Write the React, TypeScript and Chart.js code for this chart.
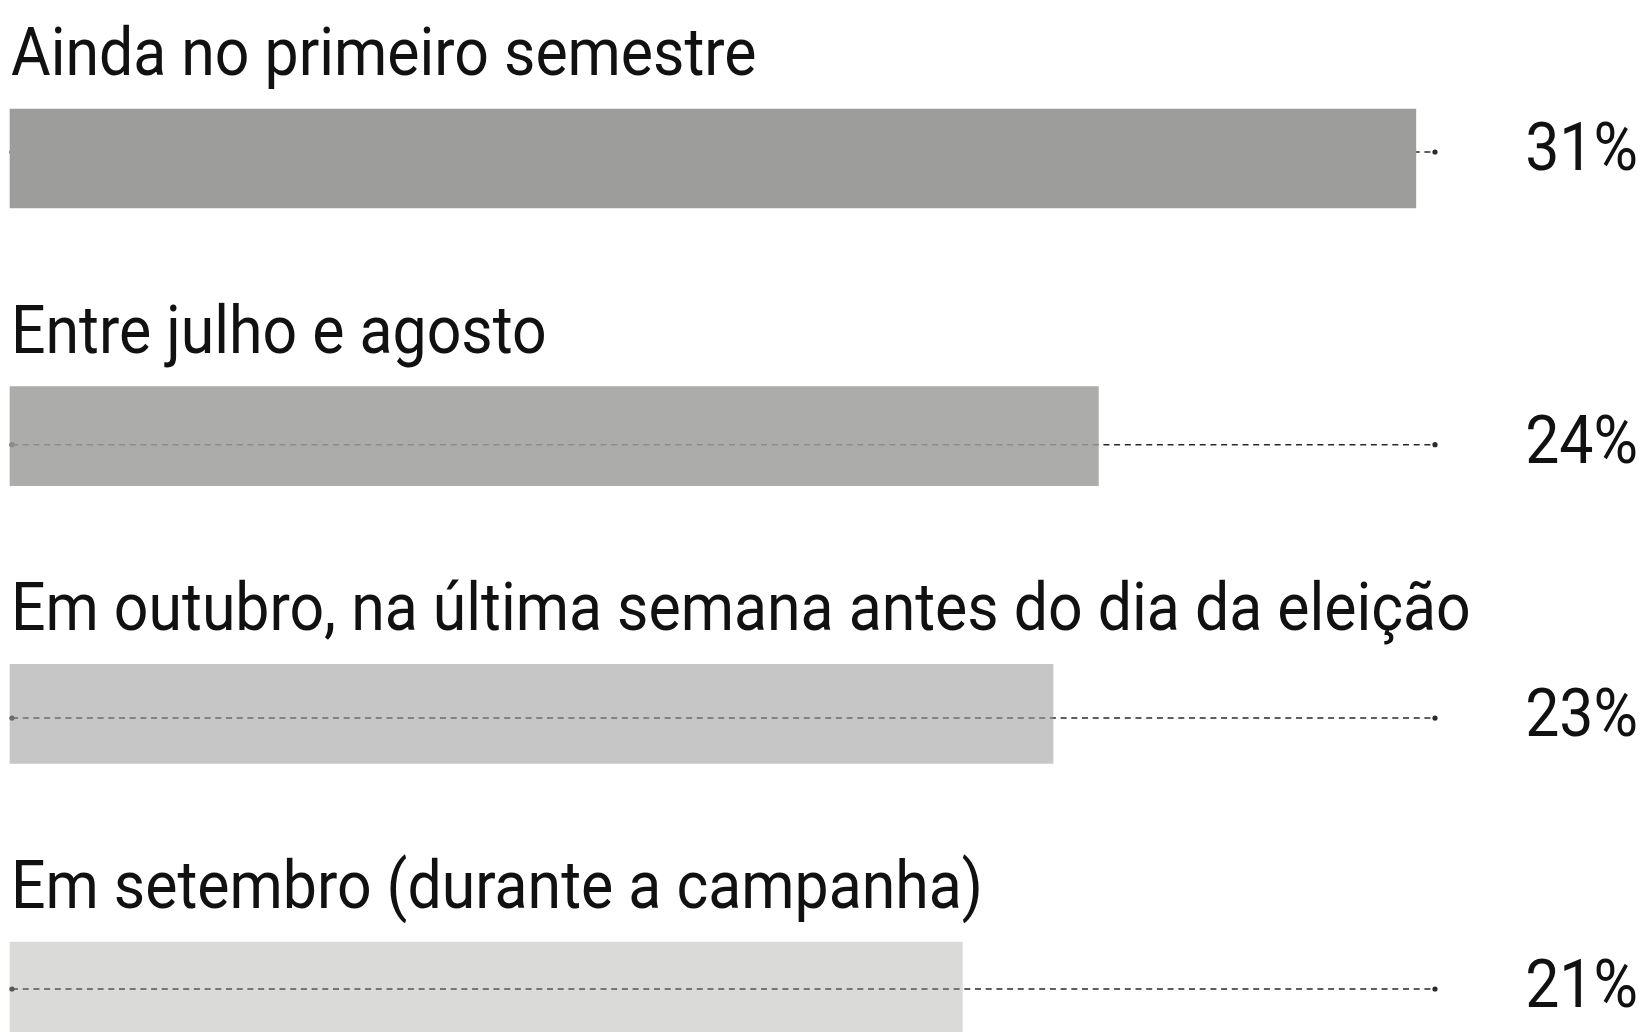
import React, { useEffect, useRef } from "react";
import { Chart, registerables } from "chart.js";

Chart.register(...registerables);

const categories = [
  "Ainda no primeiro semestre",
  "Entre julho e agosto",
  "Em outubro, na última semana antes do dia da eleição",
  "Em setembro (durante a campanha)",
];
const values = [31, 24, 23, 21];
const valueLabels = ["31%", "24%", "23%", "21%"];

const W = 1647;
const H = 1032;
const FONT = 'Roboto, "Liberation Sans", sans-serif';
const TEXT_SCALE_X = 0.9;
const barAlphas = [1, 0.85, 0.58, 0.38];
const lineOffsets = [-6.5, 8.5, 4.2, -2.5];
const LINE_END_X = 1435;
const VALUE_RIGHT_X = 1638;

function drawText(ctx: CanvasRenderingContext2D, text: string, x: number, y: number, align: CanvasTextAlign) {
  ctx.save();
  ctx.translate(x, y);
  ctx.scale(TEXT_SCALE_X, 1);
  ctx.textAlign = align;
  ctx.fillText(text, 0, 0);
  ctx.restore();
}

const overlay = {
  id: "overlay",
  beforeDatasetsDraw(chart: any) {
    const ctx = chart.ctx;
    const meta = chart.getDatasetMeta(0);
    ctx.save();
    meta.data.forEach((bar: any, i: number) => {
      const y = bar.y + lineOffsets[i];
      const x0 = bar.base + 2;
      ctx.strokeStyle = "#2a2a2a";
      ctx.lineWidth = 1.5;
      ctx.setLineDash([6, 4.7]);
      ctx.beginPath();
      ctx.moveTo(x0, y);
      ctx.lineTo(LINE_END_X, y);
      ctx.stroke();
      ctx.setLineDash([]);
      ctx.fillStyle = "#2a2a2a";
      ctx.beginPath();
      ctx.arc(x0, y, 2.6, 0, Math.PI * 2);
      ctx.fill();
      ctx.beginPath();
      ctx.arc(LINE_END_X, y, 2.6, 0, Math.PI * 2);
      ctx.fill();
    });
    ctx.restore();
  },
  afterDatasetsDraw(chart: any) {
    const ctx = chart.ctx;
    const meta = chart.getDatasetMeta(0);
    ctx.save();
    ctx.fillStyle = "#111111";
    ctx.font = `67.5px ${FONT}`;
    ctx.textBaseline = "alphabetic";
    meta.data.forEach((bar: any, i: number) => {
      const top = bar.y - bar.height / 2;
      drawText(ctx, String(chart.data.labels[i]), bar.base + 1, top - 34, "left");
      drawText(ctx, valueLabels[i], VALUE_RIGHT_X, bar.y + lineOffsets[i] + 18, "right");
    });
    ctx.restore();
  },
};

export default function App() {
  const ref = useRef<HTMLCanvasElement | null>(null);
  useEffect(() => {
    document.body.style.margin = "0";
    const canvas = ref.current!;
    const chart = new Chart(canvas, {
      type: "bar",
      data: {
        labels: categories,
        datasets: [
          {
            data: values,
            backgroundColor: barAlphas.map((a) => `rgba(157,157,156,${a})`),
            borderWidth: 0,
            barThickness: 99,
            clip: false as any,
          },
        ],
      },
      options: {
        indexAxis: "y",
        animation: false,
        responsive: false,
        maintainAspectRatio: false,
        layout: { padding: { top: 158.5, bottom: 40.5, left: 10, right: 49.75 } },
        plugins: { legend: { display: false }, tooltip: { enabled: false } },
        scales: {
          x: { type: "linear", min: 0, max: 35, display: false, grid: { display: false } },
          y: { type: "category", offset: false, display: false, grid: { display: false } },
        },
      },
      plugins: [overlay],
    });
    return () => chart.destroy();
  }, []);
  return (
    <div style={{ width: W, height: H, background: "#ffffff" }}>
      <canvas ref={ref} width={W} height={H} style={{ display: "block" }} />
    </div>
  );
}
